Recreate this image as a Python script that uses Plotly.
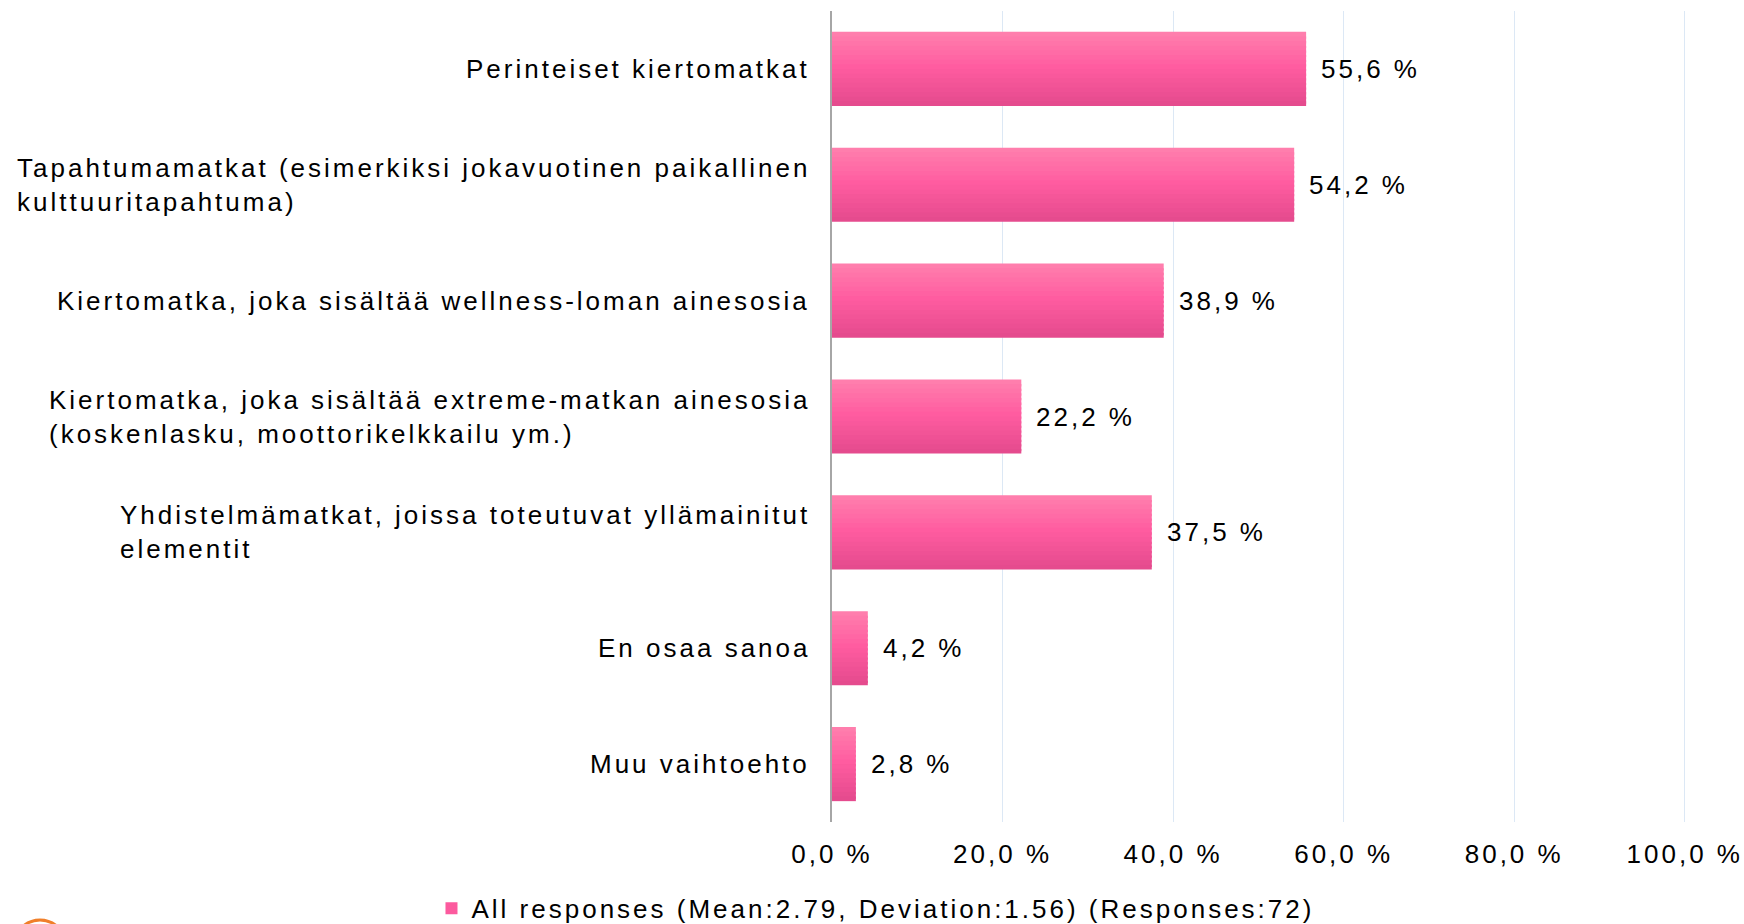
import plotly.graph_objects as go
from plotly.colors import n_colors

# data
categories = [
    "Perinteiset kiertomatkat",
    "Tapahtumamatkat (esimerkiksi jokavuotinen paikallinen<br>kulttuuritapahtuma)",
    "Kiertomatka, joka sisältää wellness-loman ainesosia",
    "Kiertomatka, joka sisältää extreme-matkan ainesosia<br>(koskenlasku, moottorikelkkailu ym.)",
    "Yhdistelmämatkat, joissa toteutuvat yllämainitut<br>elementit",
    "En osaa sanoa",
    "Muu vaihtoehto",
]
values = [55.6, 54.2, 38.9, 22.2, 37.5, 4.2, 2.8]
tick_vals = [0, 20, 40, 60, 80, 100]
tick_text = ["0,0 %", "20,0 %", "40,0 %", "60,0 %", "80,0 %", "100,0 %"]
series_name = "All responses (Mean:2.79, Deviation:1.56) (Responses:72)"

FONT = "Liberation Sans, Arial, sans-serif"
FONT_SIZE = 26

# vertical gradient of the bars, top -> bottom
band_colors = (n_colors("rgb(255,126,173)", "rgb(255,92,160)", 8, colortype = "rgb")
               + n_colors("rgb(255,92,160)", "rgb(229,75,142)", 9, colortype = "rgb")[1:])
bar_thick = 0.64
band_w = bar_thick / len(band_colors)

fig = go.Figure()

for k, col in enumerate(band_colors):
    last = k == len(band_colors) - 1
    fig.add_trace(
        go.Bar(
            x = values, y = categories, orientation = "h",
            width = band_w if last else band_w * 1.5,
            offset = -bar_thick / 2 + k * band_w,
            marker_color = col, marker_line_width = 0,
            name = series_name,
            showlegend = (k == len(band_colors) // 2),
            hoverinfo = "skip",
        )
    )

# category labels (left aligned block, right of block at axis)
for cat in categories:
    fig.add_annotation(
        x = 0, xref = "paper", y = cat, yref = "y",
        xanchor = "right", yanchor = "middle", xshift = -20,
        text = cat, align = "left", showarrow = False,
    )

# value labels
for cat, v in zip(categories, values):
    fig.add_annotation(
        x = v, y = cat, xanchor = "left", yanchor = "middle", xshift = 13,
        text = f"{v:.1f} %".replace(".", ","), showarrow = False,
    )

# orange logo peeking in bottom-left corner
fig.add_shape(
    type = "circle", xref = "paper", yref = "paper",
    xsizemode = "pixel", ysizemode = "pixel", xanchor = 0, yanchor = 0,
    x0 = -818, x1 = -766, y0 = -150, y1 = -98,
    line = dict(color = "#F07F2A", width = 3),
)

fig.update_layout(
    width = 1744, height = 924,
    plot_bgcolor = "white", paper_bgcolor = "white",
    barmode = "overlay",
    font = dict(family = FONT, size = FONT_SIZE, color = "#000000"),
    margin = dict(l = 832, r = 55, t = 11, b = 102, autoexpand = False),
    showlegend = True,
    legend = dict(
        orientation = "h", xref = "container", yref = "container",
        x = 0.502, xanchor = "center", y = 0.017, yanchor = "middle",
        itemwidth = 30, font = dict(size = FONT_SIZE),
    ),
)
fig.update_xaxes(
    range = [0, 100.5], tickvals = tick_vals, ticktext = tick_text,
    showgrid = True, gridcolor = "#DCE8F5", gridwidth = 1, automargin = False,
    zeroline = False, showline = False, ticks = "", ticklabelstandoff = 14,
)
fig.update_yaxes(
    autorange = "reversed", showticklabels = False, showgrid = False, automargin = False,
    showline = True, linecolor = "#A6A6A6", linewidth = 2, ticks = "",
)

# letter spacing like the original chart; re-measure text by nudging the font family
post = """
document.body.style.margin = '0';
var s = document.createElement('style');
s.innerHTML = 'text { letter-spacing: 3px; }';
document.head.appendChild(s);
var gd = document.getElementById('{plot_id}');
Plotly.relayout(gd, {'font.family': 'Liberation Sans, Arial, Helvetica, sans-serif'});
"""

fig.write_html("out.html", post_script = post, config = {"displayModeBar": False})
